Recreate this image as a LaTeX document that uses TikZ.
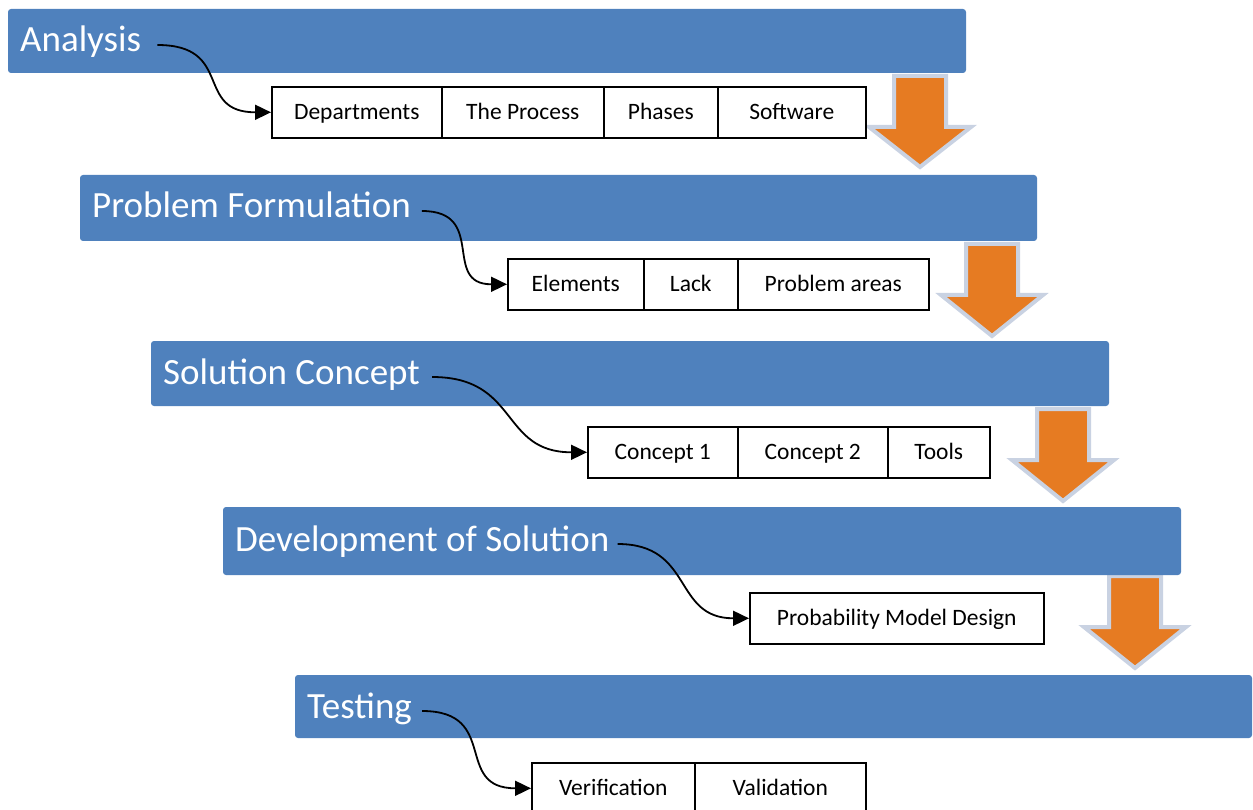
\documentclass[tikz,border=0pt]{standalone}
\usepackage{fontspec}
\setmainfont{Carlito}
\usetikzlibrary{arrows.meta,calc}

\definecolor{barblue}{HTML}{4F81BD}
\definecolor{flowor}{HTML}{E67B22}
\definecolor{flowrim}{HTML}{C9D2E2}

\tikzset{
  phasebar/.style={fill=barblue, draw=none, rounded corners=3pt},
  phasetitle/.style={text=white, inner sep=0pt, font=\fontsize{37}{40}\selectfont},
  cell/.style={draw=black, line width=1.6pt, fill=white, inner sep=0pt,
               text height=16pt, text depth=1pt,
               minimum height=51pt, anchor=north west, font=\fontsize{23.5}{26}\selectfont},
  link/.style={line width=1.8pt, -{Triangle[length=16pt,width=15pt]}},
  flow/.style={fill=flowor, draw=flowrim, line width=4pt, line join=miter}
}

% block arrow between two phases: centre x, top y, tip y
\newcommand\phaseflow[3]{%
  \draw[flow] (#1-26,#2) -- (#1+26,#2) -- (#1+26,#2+51) -- (#1+51,#2+51)
    -- (#1,#3) -- (#1-51,#2+51) -- (#1-26,#2+51) -- cycle;}

\begin{document}
\begin{tikzpicture}[x=1pt,y=-1pt]
\useasboundingbox (0,0) rectangle (1253,810);

% arrows from one phase down to the next
\phaseflow{920}{76}{167}
\phaseflow{992}{244}{336}
\phaseflow{1063}{409}{501}
\phaseflow{1135}{576}{668}

% phase bars
\fill[phasebar] (8,9) rectangle (966,73);
\fill[phasebar] (80,175) rectangle (1037,241);
\fill[phasebar] (151,341) rectangle (1109,406);
\fill[phasebar] (223,507) rectangle (1181,575);
\fill[phasebar] (295,675) rectangle (1252,738);

% phase titles
\node[phasetitle, anchor=base west] (t1) at (20,52) {Analysis};
\node[phasetitle, anchor=base west] (t2) at (92,218) {Problem Formulation};
\node[phasetitle, anchor=base west] (t3) at (163,384) {Solution Concept};
\node[phasetitle, anchor=base west] (t4) at (235,551) {Development of Solution};
\node[phasetitle, anchor=base west] (t5) at (307,718) {Testing};

% topic cells
\node[cell, minimum width=170pt] (c11) at (271,86) {Departments};
\node[cell, minimum width=162pt] (c12) at (441,86) {The Process};
\node[cell, minimum width=114pt] (c13) at (603,86) {Phases};
\node[cell, minimum width=148pt] (c14) at (717,86) {Software};

\node[cell, minimum width=136pt] (c21) at (507,258) {Elements};
\node[cell, minimum width=94pt]  (c22) at (643,258) {Lack};
\node[cell, minimum width=191pt] (c23) at (737,258) {Problem areas};

\node[cell, minimum width=150pt] (c31) at (587,426) {Concept 1};
\node[cell, minimum width=150pt] (c32) at (737,426) {Concept 2};
\node[cell, minimum width=102pt] (c33) at (887,426) {Tools};

\node[cell, minimum width=294pt] (c41) at (749,592) {Probability Model Design};

\node[cell, minimum width=163pt] (c51) at (531,762) {Verification};
\node[cell, minimum width=171pt] (c52) at (694,762) {Validation};

% start points of the links, just after each title
\coordinate (s1) at ($(t1.base east)+(16,-7)$);
\coordinate (s2) at ($(t2.base east)+(11,-7)$);
\coordinate (s3) at ($(t3.base east)+(12,-7)$);
\coordinate (s4) at ($(t4.base east)+(8,-7)$);
\coordinate (s5) at ($(t5.base east)+(10,-7)$);

\draw[link] (s1) to[out=0,in=180,looseness=1.5] (c11.west);
\draw[link] (s2) to[out=0,in=180,looseness=1.5] (c21.west);
\draw[link] (s3) to[out=0,in=180,looseness=1.3] (c31.west);
\draw[link] (s4) to[out=0,in=180,looseness=1.3] (c41.west);
\draw[link] (s5) to[out=0,in=180,looseness=1.5] (c51.west);
\end{tikzpicture}
\end{document}
